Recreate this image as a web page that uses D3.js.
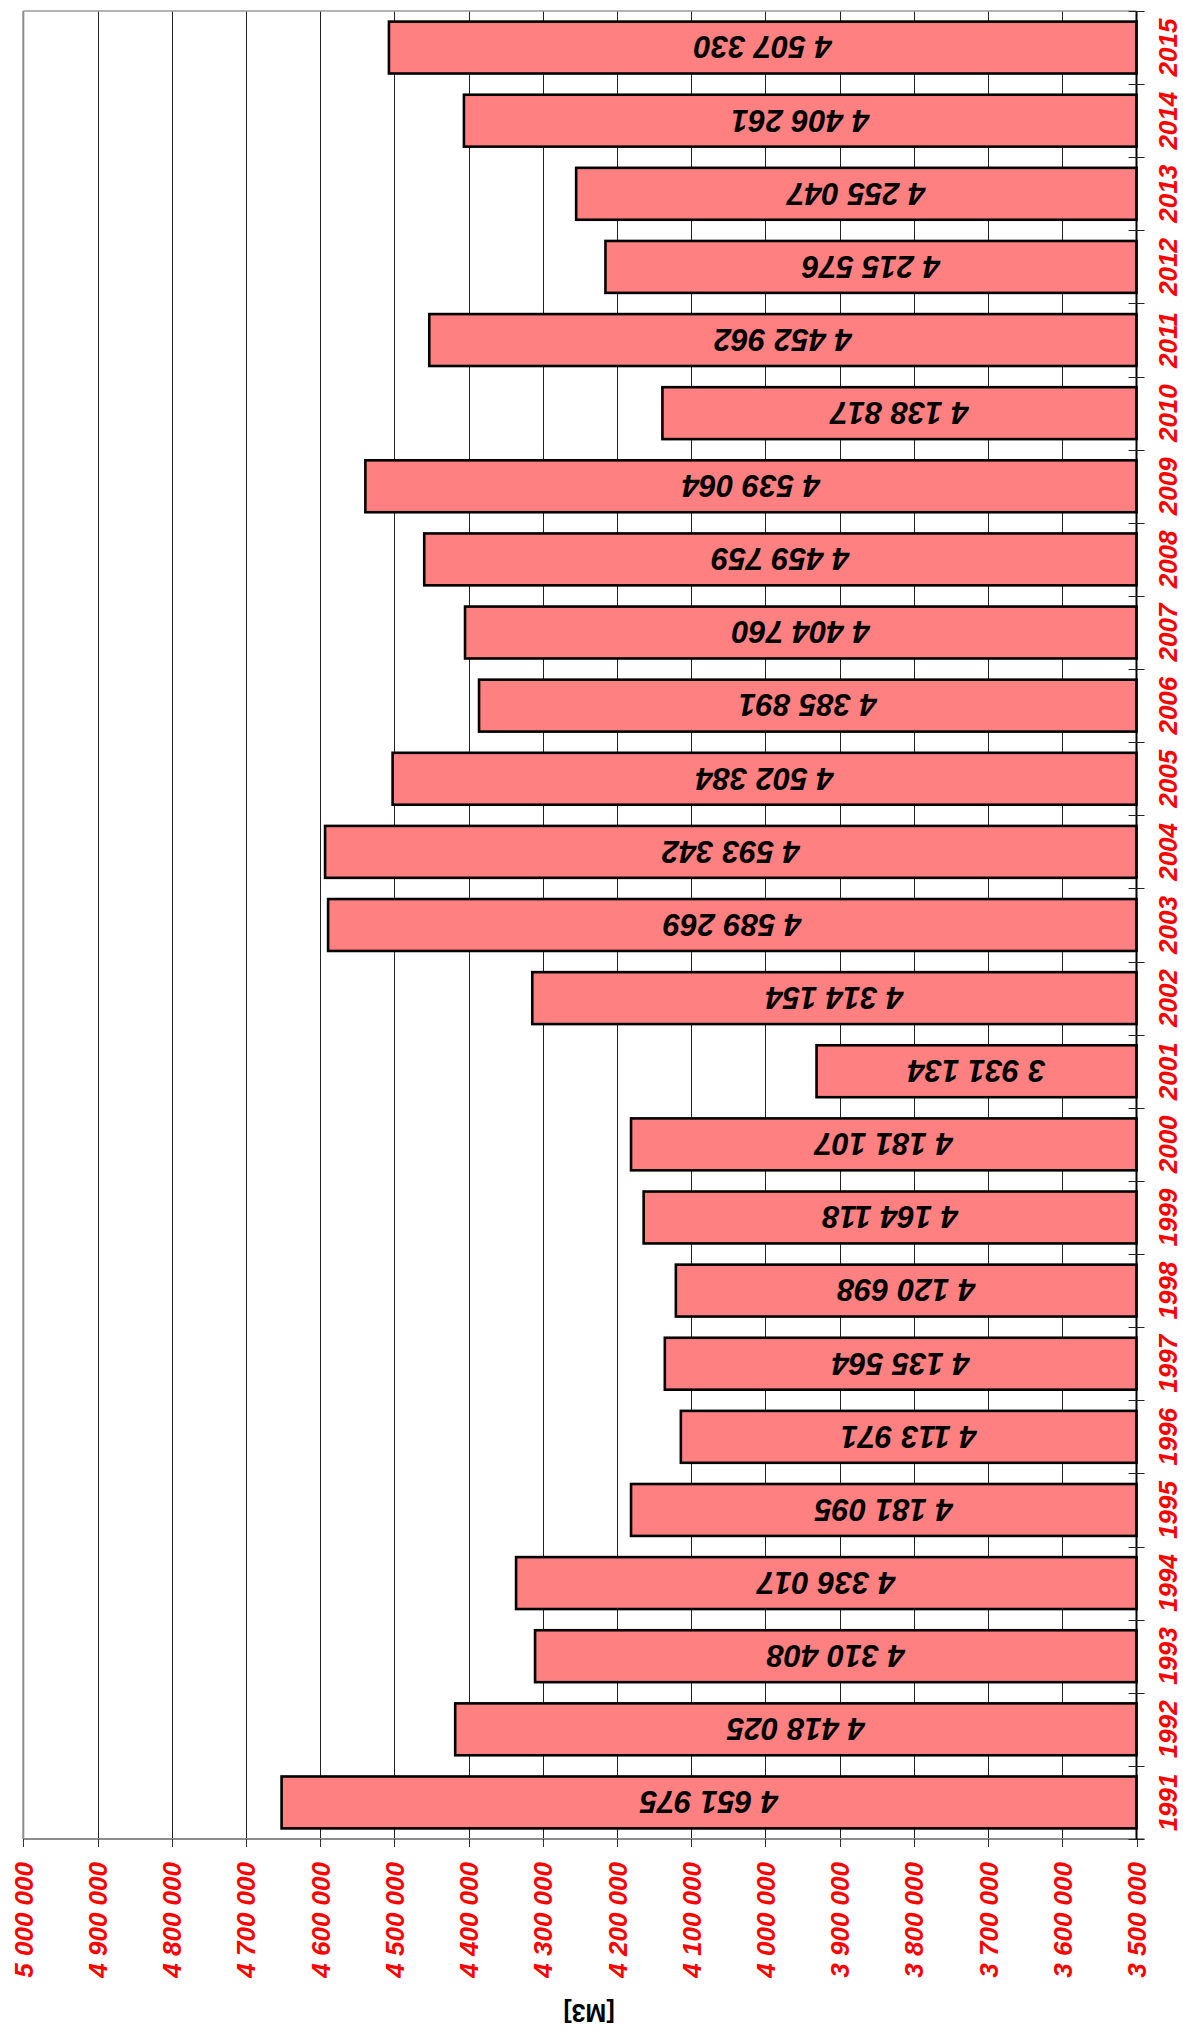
<!DOCTYPE html>
<html>
<head>
<meta charset="utf-8">
<script src="https://cdn.jsdelivr.net/npm/d3@7"></script>
<style>
  html, body { margin: 0; padding: 0; background: #fff; }
  svg { display: block; }
  text { font-family: "Liberation Sans", Arial, sans-serif; }
</style>
</head>
<body>
<svg id="chart" width="1183" height="2031"></svg>
<script>
const years = ["1991","1992","1993","1994","1995","1996","1997","1998","1999","2000",
               "2001","2002","2003","2004","2005","2006","2007","2008","2009","2010",
               "2011","2012","2013","2014","2015"];
const values = [4651975, 4418025, 4310408, 4336017, 4181095, 4113971, 4135564, 4120698, 4164118, 4181107,
                3931134, 4314154, 4589269, 4593342, 4502384, 4385891, 4404760, 4459759, 4539064, 4138817,
                4452962, 4215576, 4255047, 4406261, 4507330];
const axisTicks = [3500000, 3600000, 3700000, 3800000, 3900000, 4000000, 4100000, 4200000,
                   4300000, 4400000, 4500000, 4600000, 4700000, 4800000, 4900000, 5000000];
const unitLabel = "[M3]";

const data = years.map((y, i) => ({ year: y, value: values[i] }));

const svg = d3.select("#chart");
const plot = { left: 23.3, right: 1136.5, top: 11, bottom: 1839 };

const fmt = d3.formatLocale({ thousands: "\u00a0", grouping: [3], decimal: ",", currency: ["", ""] }).format(",");

const x = d3.scaleLinear().domain([3500000, 5000000]).range([plot.right, plot.left]);
const y = d3.scaleBand().domain(years.slice().reverse()).range([plot.top, plot.bottom]).paddingInner(0).paddingOuter(0);
const barFrac = 0.71;

// gridlines
svg.append("g").selectAll("line").data(axisTicks.filter(t => t > 3500000 && t < 5000000)).join("line")
  .attr("x1", d => Math.round(x(d)) + 0.5).attr("x2", d => Math.round(x(d)) + 0.5)
  .attr("y1", plot.top).attr("y2", plot.bottom)
  .attr("stroke", "#222").attr("stroke-width", 1);

// plot border (left, top)
svg.append("line").attr("x1", plot.left).attr("x2", plot.left).attr("y1", plot.top).attr("y2", plot.bottom)
  .attr("stroke", "#8c8c8c").attr("stroke-width", 2);
svg.append("line").attr("x1", plot.left).attr("x2", plot.right).attr("y1", plot.top).attr("y2", plot.top)
  .attr("stroke", "#9a9a9a").attr("stroke-width", 1.5);

// bars
svg.append("g").selectAll("rect").data(data).join("rect")
  .attr("x", d => x(d.value))
  .attr("y", d => y(d.year) + y.bandwidth() * (1 - barFrac) / 2)
  .attr("width", d => x(3500000) - x(d.value))
  .attr("height", y.bandwidth() * barFrac)
  .attr("fill", "#ff8080")
  .attr("stroke", "#000").attr("stroke-width", 2.6);

// value labels (upside-down)
svg.append("g").selectAll("text").data(data).join("text")
  .attr("transform", d => `translate(${(x(d.value) + x(3500000)) / 2},${y(d.year) + y.bandwidth() / 2}) rotate(180)`)
  .attr("text-anchor", "middle")
  .attr("dy", "0.36em")
  .attr("font-size", 31).attr("font-weight", "bold").attr("font-style", "italic")
  .attr("fill", "#000")
  .text(d => fmt(d.value));

// bottom value axis line
svg.append("line").attr("x1", plot.left).attr("x2", plot.right + 8).attr("y1", plot.bottom).attr("y2", plot.bottom)
  .attr("stroke", "#8c8c8c").attr("stroke-width", 2);
// value ticks
svg.append("g").selectAll("line").data(axisTicks).join("line")
  .attr("x1", d => Math.round(x(d)) + 0.5).attr("x2", d => Math.round(x(d)) + 0.5)
  .attr("y1", plot.bottom).attr("y2", plot.bottom + 8)
  .attr("stroke", "#333").attr("stroke-width", 1);
// value axis labels
svg.append("g").selectAll("text").data(axisTicks).join("text")
  .attr("transform", d => `translate(${x(d) + 9.5},1862) rotate(-90)`)
  .attr("text-anchor", "end")
  .attr("font-size", 26).attr("font-weight", "bold").attr("font-style", "italic")
  .attr("fill", "#ff0000")
  .text(d => fmt(d));

// category axis line (right)
svg.append("line").attr("x1", plot.right).attr("x2", plot.right).attr("y1", plot.top).attr("y2", plot.bottom)
  .attr("stroke", "#000").attr("stroke-width", 2);
// category ticks
const bounds = years.map(yr => y(yr)).concat([plot.bottom]);
svg.append("g").selectAll("line").data(bounds).join("line")
  .attr("x1", plot.right - 8).attr("x2", plot.right + 8)
  .attr("y1", d => Math.round(d) + 0.5).attr("y2", d => Math.round(d) + 0.5)
  .attr("stroke", "#222").attr("stroke-width", 1);
// category labels
svg.append("g").selectAll("text").data(years).join("text")
  .attr("transform", d => `translate(1177,${y(d) + y.bandwidth() / 2}) rotate(-90)`)
  .attr("text-anchor", "middle")
  .attr("font-size", 26).attr("font-weight", "bold").attr("font-style", "italic")
  .attr("fill", "#ff0000")
  .text(d => d);

// unit label (upside-down)
svg.append("text")
  .attr("transform", `translate(589,2013) rotate(180)`)
  .attr("text-anchor", "middle").attr("dy", "0.36em")
  .attr("font-size", 25).attr("font-weight", "bold")
  .attr("fill", "#000")
  .text(unitLabel);
</script>
</body>
</html>
